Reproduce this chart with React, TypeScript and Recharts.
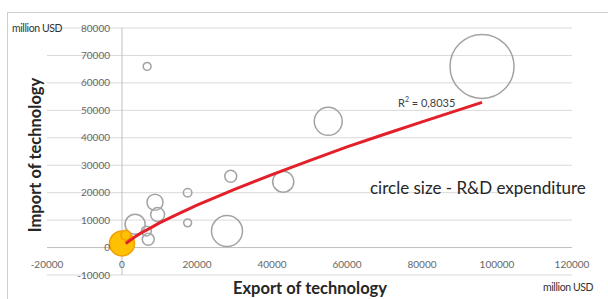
import { ScatterChart, Scatter, XAxis, YAxis, ZAxis, CartesianGrid, ReferenceLine } from 'recharts'

// export / import of technology, bubble = R&D expenditure
const countries = [
  { x: 96000, y: 66000, z: 460 },
  { x: 55000, y: 46000, z: 88 },
  { x: 43000, y: 24000, z: 50 },
  { x: 29000, y: 26000, z: 16 },
  { x: 28000, y: 6000, z: 108 },
  { x: 6700, y: 66000, z: 7 },
  { x: 17500, y: 20000, z: 8 },
  { x: 17500, y: 9000, z: 7 },
  { x: 8800, y: 16500, z: 29 },
  { x: 9500, y: 12000, z: 22 },
  { x: 3500, y: 8500, z: 45 },
  { x: 7000, y: 3000, z: 16 },
  { x: 6500, y: 6000, z: 11 }
]

const highlighted = [
  { x: 0, y: 1500, z: 70 },
  { x: 1000, y: 4500, z: 11 }
]

// power trendline
const trend = [
  { x: 1000, y: 1500 },
  { x: 2000, y: 2500 },
  { x: 3500, y: 3900 },
  { x: 5000, y: 5200 },
  { x: 7500, y: 7100 },
  { x: 10000, y: 9000 },
  { x: 15000, y: 12300 },
  { x: 20000, y: 15500 },
  { x: 30000, y: 21200 },
  { x: 40000, y: 26600 },
  { x: 50000, y: 31700 },
  { x: 60000, y: 36700 },
  { x: 70000, y: 41300 },
  { x: 80000, y: 45800 },
  { x: 96000, y: 52900 }
]

const xTicks = [-20000, 0, 20000, 40000, 60000, 80000, 100000, 120000]
const yTicks = [-10000, 0, 10000, 20000, 30000, 40000, 50000, 60000, 70000, 80000]

const font = 'Lato, "Open Sans", sans-serif'

const YTick = ({ y, payload }: any) => (
  <text x={110} y={y} dy={3.5} textAnchor="end" fontSize={10} fill="#666" fontFamily={font}>
    {payload.value}
  </text>
)

const XTick = ({ x, payload }: any) => (
  <text x={x} y={268} textAnchor="middle" fontSize={10} fill="#666" fontFamily={font}>
    {payload.value}
  </text>
)

const noDot = () => <g />

export default function App() {
  return (
    <div style={{ position: 'absolute', left: 0, top: 0, width: 608, height: 299, background: '#fff', fontFamily: font, overflow: 'hidden' }}>
      <div style={{ position: 'absolute', left: 7, top: 12, width: 620, height: 300, borderTop: '1px solid #cfcfcf', borderLeft: '1px solid #cfcfcf' }} />
      <ScatterChart width={608} height={299} margin={{ top: 28, right: 36, bottom: 23, left: 46 }}>
        <CartesianGrid vertical={false} stroke="#d9d9d9" />
        <XAxis type="number" dataKey="x" domain={[-20000, 120000]} ticks={xTicks} height={1}
          axisLine={false} tickLine={false} tick={<XTick />} interval={0} />
        <YAxis type="number" dataKey="y" domain={[-10000, 80000]} ticks={yTicks} width={1}
          axisLine={false} tickLine={false} tick={<YTick />} interval={0} />
        <ZAxis type="number" dataKey="z" domain={[0, 460]} range={[0, 3217]} />
        <ReferenceLine y={0} stroke="#bfbfbf" />
        <ReferenceLine x={0} stroke="#bfbfbf" />
        <Scatter data={countries} fill="#ffffff" fillOpacity={0.15} stroke="#a3a3a3" strokeWidth={1.5} isAnimationActive={false} />
        <Scatter data={highlighted} fill="#ffc000" stroke="#f0a000" strokeWidth={1.5} isAnimationActive={false} />
        <Scatter data={trend} line={{ stroke: '#e3202a', strokeWidth: 3 }} lineType="joint" shape={noDot} isAnimationActive={false} />
      </ScatterChart>
      <div style={{ position: 'absolute', left: 12, top: 22, fontSize: 10.5, letterSpacing: -0.4, color: '#333' }}>million USD</div>
      <div style={{ position: 'absolute', left: 543, top: 281, fontSize: 10.5, letterSpacing: -0.4, color: '#333' }}>million USD</div>
      <div style={{ position: 'absolute', left: 35, top: 155, transform: 'translate(-50%, -50%) rotate(-90deg)', whiteSpace: 'nowrap', fontSize: 16.5, fontWeight: 700, color: '#262626' }}>Import of technology</div>
      <div style={{ position: 'absolute', left: 310, top: 288, transform: 'translate(-50%, -50%)', whiteSpace: 'nowrap', fontSize: 16.5, fontWeight: 700, color: '#262626' }}>Export of technology</div>
      <div style={{ position: 'absolute', left: 370, top: 187, transform: 'translateY(-50%)', whiteSpace: 'nowrap', fontSize: 17, color: '#262626' }}>circle size - R&amp;D expenditure</div>
      <div style={{ position: 'absolute', left: 398, top: 102, transform: 'translateY(-50%)', whiteSpace: 'nowrap', fontSize: 11, color: '#404040' }}>R<sup style={{ fontSize: 7 }}>2</sup> = 0,8035</div>
    </div>
  )
}
